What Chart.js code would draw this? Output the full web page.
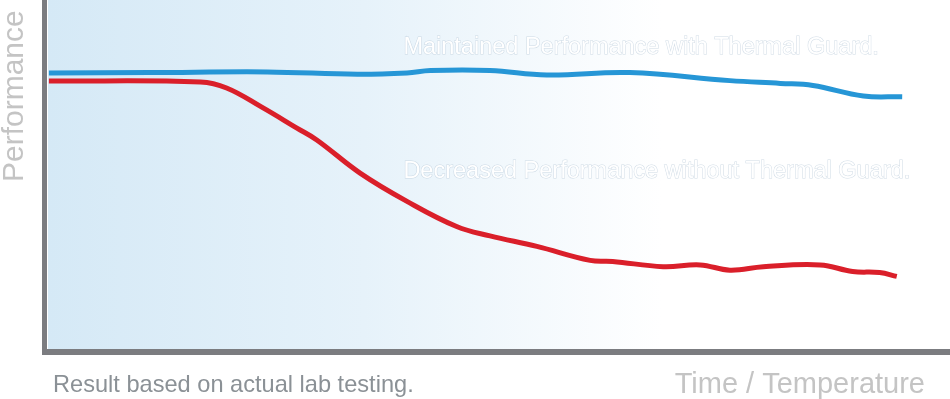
<!DOCTYPE html>
<html>
<head>
<meta charset="utf-8">
<script src="https://cdn.jsdelivr.net/npm/chart.js@4/dist/chart.umd.min.js"></script>
<style>
  html, body { margin: 0; padding: 0; background: #fff; }
  #wrap { width: 950px; height: 399px; position: relative; }
</style>
</head>
<body>
<div id="wrap"><canvas id="chart"></canvas></div>
<script>
// time / temperature (0-100) and performance (0-100)
const guardTime = [0.1, 11.3, 24.3, 34.3, 39.8, 42.4, 49.0, 55.3, 64.5, 75.6, 81.2, 84.8, 90.4, 94.7];
const guardPerf = [79.1, 79.2, 79.4, 78.7, 79.1, 79.8, 79.8, 78.5, 79.2, 76.9, 76.1, 75.5, 72.5, 72.3];

const noGuardTime = [0.1, 16.9, 19.8, 23.7, 27.6, 29.8, 34.6, 39.8, 45.3, 49.0, 54.2, 60.1, 62.6, 68.2, 72.3, 75.6, 79.3, 85.6, 89.2, 92.2, 94.1];
const noGuardPerf = [76.8, 76.5, 74.8, 69.3, 63.3, 59.9, 50.4, 42.3, 35.1, 32.4, 29.4, 25.4, 25.1, 23.6, 24.1, 22.6, 23.6, 24.1, 22.2, 21.9, 20.8];

const labelGuard = 'Maintained Performance with Thermal Guard.';
const labelNoGuard = 'Decreased Performance without Thermal Guard.';
const yTitle = 'Performance';
const xTitle = 'Time / Temperature';
const footNote = 'Result based on actual lab testing.';

const toPoints = (xs, ys) => xs.map((x, i) => ({ x: x, y: ys[i] }));

const decorations = {
  id: 'decorations',
  beforeDraw(chart) {
    const ctx = chart.ctx;
    const a = chart.chartArea;
    ctx.save();
    ctx.fillStyle = '#ffffff';
    ctx.fillRect(0, 0, chart.width, chart.height);
    const g = ctx.createLinearGradient(a.left, 0, a.right, 0);
    g.addColorStop(0, 'rgb(213,233,246)');
    g.addColorStop(0.35, 'rgb(230,242,250)');
    g.addColorStop(0.68, 'rgb(255,255,255)');
    g.addColorStop(1, 'rgb(255,255,255)');
    ctx.fillStyle = g;
    ctx.fillRect(a.left, a.top, a.right - a.left, a.bottom - a.top);
    ctx.restore();
  },
  afterDraw(chart) {
    const ctx = chart.ctx;
    const a = chart.chartArea;
    const xs = chart.scales.x;
    const ys = chart.scales.y;
    ctx.save();

    // axes
    ctx.fillStyle = '#7b7c80';
    ctx.fillRect(a.left - 6, a.top, 5, a.bottom - a.top + 6);
    ctx.fillRect(a.left - 6, a.bottom, a.right - a.left + 6, 6);

    // series labels, white with a faint outline
    ctx.font = '23.5px "Liberation Sans", Arial, sans-serif';
    ctx.textBaseline = 'alphabetic';
    ctx.textAlign = 'left';
    ctx.lineWidth = 1;
    ctx.strokeStyle = 'rgba(190,205,220,0.7)';
    ctx.fillStyle = '#ffffff';
    const lx = xs.getPixelForValue(39.4);
    const y1 = ys.getPixelForValue(84.4);
    const y2 = ys.getPixelForValue(48.9);
    ctx.strokeText(labelGuard, lx, y1);
    ctx.fillText(labelGuard, lx, y1);
    ctx.strokeText(labelNoGuard, lx, y2);
    ctx.fillText(labelNoGuard, lx, y2);

    // y title
    ctx.save();
    ctx.translate(23, 182);
    ctx.rotate(-Math.PI / 2);
    ctx.font = '30px "Liberation Sans", Arial, sans-serif';
    ctx.fillStyle = '#c4c4c4';
    ctx.fillText(yTitle, 0, 0);
    ctx.restore();

    // x title
    ctx.font = '29px "Liberation Sans", Arial, sans-serif';
    ctx.fillStyle = '#c4c4c4';
    ctx.textAlign = 'right';
    ctx.fillText(xTitle, 925, 393);

    // foot note
    ctx.font = '23.6px "Liberation Sans", Arial, sans-serif';
    ctx.fillStyle = '#8b9196';
    ctx.textAlign = 'left';
    ctx.fillText(footNote, 53, 392);

    ctx.restore();
  }
};

new Chart(document.getElementById('chart'), {
  type: 'line',
  data: {
    datasets: [
      {
        label: labelGuard,
        data: toPoints(guardTime, guardPerf),
        borderColor: '#2696d6',
        borderWidth: 5,
        pointRadius: 0,
        tension: 0.4,
        fill: false
      },
      {
        label: labelNoGuard,
        data: toPoints(noGuardTime, noGuardPerf),
        borderColor: '#da1f2a',
        borderWidth: 5,
        pointRadius: 0,
        tension: 0.4,
        fill: false
      }
    ]
  },
  options: {
    responsive: true,
    maintainAspectRatio: false,
    animation: false,
    layout: { padding: { left: 48, top: 0, right: 0, bottom: 50 } },
    plugins: {
      legend: { display: false },
      tooltip: { enabled: false }
    },
    scales: {
      x: { type: 'linear', min: 0, max: 100, display: false },
      y: { type: 'linear', min: 0, max: 100, display: false }
    }
  },
  plugins: [decorations]
});
</script>
</body>
</html>
